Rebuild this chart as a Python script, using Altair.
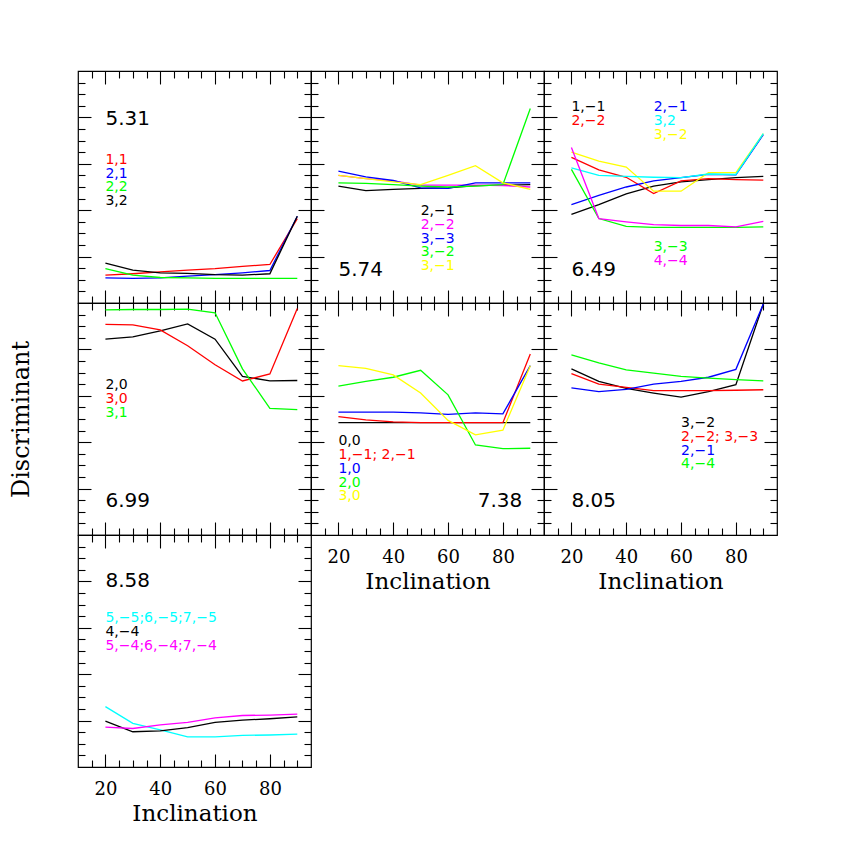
import altair as alt
import pandas as pd

# ---------------- data ----------------
INCLINATION = [20, 30, 40, 50, 60, 70, 80, 90]
PANEL_TITLES = ["5.31", "5.74", "6.49", "6.99", "7.38", "8.05", "8.58"]

P1_NAMES = ["1,1", "2,1", "2,2", "3,2"]
P1_COLORS = ["red", "blue", "green", "black"]
P1_VALUES = [
    [0.60, 0.63, 0.67, 0.71, 0.74, 0.79, 0.83, 1.82],
    [0.54, 0.53, 0.54, 0.58, 0.61, 0.65, 0.70, 1.87],
    [0.74, 0.60, 0.55, 0.54, 0.53, 0.53, 0.53, 0.53],
    [0.86, 0.71, 0.65, 0.64, 0.61, 0.60, 0.63, 1.87],
]

P2_NAMES = ["2,−1", "2,−2", "3,−3", "3,−2", "3,−1"]
P2_COLORS = ["black", "magenta", "blue", "green", "yellow"]
P2_VALUES = [
    [2.52, 2.42, 2.45, 2.47, 2.48, 2.53, 2.54, 2.55],
    [2.75, 2.68, 2.63, 2.54, 2.54, 2.54, 2.53, 2.50],
    [2.84, 2.72, 2.64, 2.48, 2.47, 2.59, 2.59, 2.59],
    [2.59, 2.58, 2.55, 2.52, 2.50, 2.52, 2.55, 4.19],
    [2.75, 2.68, 2.61, 2.55, 2.75, 2.96, 2.59, 2.45],
]

P3_NAMES = ["1,−1", "2,−2", "2,−1", "3,−2", "3,2", "3,−3", "4,−4"]
P3_COLORS = ["black", "red", "blue", "yellow", "cyan", "green", "magenta"]
P3_VALUES = [
    [1.91, 2.12, 2.35, 2.52, 2.61, 2.66, 2.70, 2.73],
    [3.14, 2.87, 2.71, 2.36, 2.63, 2.68, 2.66, 2.65],
    [2.12, 2.32, 2.50, 2.63, 2.70, 2.77, 2.76, 3.63],
    [3.25, 3.06, 2.93, 2.41, 2.41, 2.81, 2.81, 3.65],
    [2.91, 2.75, 2.73, 2.71, 2.70, 2.78, 2.77, 3.65],
    [2.88, 1.82, 1.65, 1.63, 1.63, 1.63, 1.63, 1.64],
    [3.35, 1.82, 1.75, 1.69, 1.67, 1.67, 1.64, 1.76],
]

P4_NAMES = ["2,0", "3,0", "3,1"]
P4_COLORS = ["black", "red", "green"]
P4_VALUES = [
    [4.22, 4.27, 4.40, 4.55, 4.22, 3.42, 3.32, 3.33],
    [4.54, 4.53, 4.42, 4.08, 3.67, 3.32, 3.47, 4.88],
    [4.85, 4.86, 4.86, 4.87, 4.79, 3.58, 2.73, 2.70],
]

P5_NAMES = ["0,0", "1,−1; 2,−1", "1,0", "2,0", "3,0"]
P5_COLORS = ["black", "red", "blue", "green", "yellow"]
P5_VALUES = [
    [2.42, 2.42, 2.42, 2.42, 2.42, 2.42, 2.42, 2.42],
    [2.55, 2.48, 2.44, 2.42, 2.42, 2.42, 2.42, 3.90],
    [2.65, 2.65, 2.65, 2.63, 2.60, 2.63, 2.61, 3.65],
    [3.21, 3.31, 3.40, 3.55, 3.02, 1.94, 1.86, 1.87],
    [3.65, 3.59, 3.45, 3.06, 2.47, 2.16, 2.26, 3.65],
]

P6_NAMES = ["3,−2", "2,−2; 3,−3", "2,−1", "4,−4"]
P6_COLORS = ["black", "red", "blue", "green"]
P6_VALUES = [
    [3.58, 3.31, 3.16, 3.06, 2.97, 3.09, 3.24, 4.98],
    [3.48, 3.25, 3.18, 3.11, 3.11, 3.11, 3.12, 3.13],
    [3.17, 3.09, 3.14, 3.25, 3.31, 3.40, 3.57, 4.98],
    [3.88, 3.71, 3.56, 3.49, 3.42, 3.38, 3.35, 3.32],
]

P7_NAMES = ["5,−5;6,−5;7,−5", "4,−4", "5,−4;6,−4;7,−4"]
P7_COLORS = ["cyan", "black", "magenta"]
P7_VALUES = [
    [1.30, 0.94, 0.80, 0.65, 0.65, 0.68, 0.69, 0.71],
    [0.99, 0.76, 0.78, 0.85, 0.96, 1.01, 1.04, 1.08],
    [0.86, 0.83, 0.91, 0.96, 1.06, 1.11, 1.12, 1.14],
]

# ---------------- layout / style ----------------
COLOR_HEX = {"red": "#ff0000", "blue": "#0000ff", "green": "#00ff00",
             "black": "#000000", "magenta": "#ff00ff", "cyan": "#00ffff",
             "yellow": "#ffff00"}

# annotation placement (data coordinates)
TITLE_POS = [(20, 3.96), (20, 0.72), (20, 0.72), (20, 0.73), (70.8, 0.73), (20, 0.73), (20, 4.0)]
LEGEND_BLOCKS = [
    [(20, 3.09, P1_NAMES)],
    [(50, 1.99, P2_NAMES)],
    [(20, 4.22, ["1,−1", "2,−2"]), (50, 4.22, ["2,−1", "3,2", "3,−2"]), (50, 1.20, ["3,−3", "4,−4"])],
    [(20, 3.24, P4_NAMES)],
    [(20, 2.03, P5_NAMES)],
    [(60, 2.42, P6_NAMES)],
    [(20, 3.21, P7_NAMES)],
]
LINE_STEP = 0.3
BIG_FS = 20
SMALL_FS = 14

X_DOMAIN = [10, 95]
Y_DOMAIN = [0, 5]
X_TICKS = list(range(15, 95, 5))
Y_TICKS = [i * 0.25 for i in range(1, 20)]
XSIZE = {"expr": "datum.value % 20 === 0 ? -13 : -7"}
YSIZE = {"expr": "datum.value % 1 === 0 ? -13 : -7"}
PW, PH = 233, 232

COMMON_AX = dict(domain=False, grid=False, tickColor="black", tickWidth=1.1, minExtent=0)


def x_axis(orient, labels):
    kw = dict(COMMON_AX, orient=orient, values=X_TICKS, tickSize=XSIZE)
    if labels:
        kw.update(labels=True,
                  labelExpr="datum.value % 20 === 0 ? datum.label : ''",
                  labelPadding=26, labelFont="DejaVu Serif", labelFontSize=18,
                  labelColor="black", labelOverlap=False, labelFlush=False,
                  title="Inclination", titleFont="DejaVu Serif", titleFontSize=23,
                  titleFontWeight="normal", titleColor="black", titlePadding=-2)
    else:
        kw.update(labels=False, title=None)
    return alt.Axis(**kw)


def y_axis(orient, title):
    kw = dict(COMMON_AX, orient=orient, values=Y_TICKS, tickSize=YSIZE, labels=False)
    if title:
        kw.update(title=title, titleFont="DejaVu Serif", titleFontSize=24,
                  titleFontWeight="normal", titleColor="black", titlePadding=44)
    else:
        kw.update(title=None)
    return alt.Axis(**kw)


def panel(i, names, colors, values, bottom_labels=False, ytitle=None):
    rows = []
    for n, c, vals in zip(names, colors, values):
        for xv, yv in zip(INCLINATION, vals):
            rows.append({"series": n, "col": COLOR_HEX[c], "incl": xv, "disc": yv})
    df = pd.DataFrame(rows)

    cmap = {n: COLOR_HEX[c] for n, c in zip(names, colors)}
    ann = [{"label": PANEL_TITLES[i], "col": "#000000",
            "ax": TITLE_POS[i][0], "ay": TITLE_POS[i][1], "fs": BIG_FS}]
    for bx, by, lst in LEGEND_BLOCKS[i]:
        for k, n in enumerate(lst):
            ann.append({"label": n, "col": cmap[n], "ax": bx,
                        "ay": by - k * LINE_STEP, "fs": SMALL_FS})
    adf = pd.DataFrame(ann)

    xs = alt.Scale(domain=X_DOMAIN, nice=False, zero=False)
    ys = alt.Scale(domain=Y_DOMAIN, nice=False, zero=False)

    lines = alt.Chart(df).mark_line(strokeWidth=1.3).encode(
        x=alt.X("incl:Q", scale=xs, axis=x_axis("bottom", bottom_labels)),
        y=alt.Y("disc:Q", scale=ys, axis=y_axis("left", ytitle)),
        color=alt.Color("col:N", scale=None),
        detail="series:N",
    )
    texts = alt.Chart(adf).mark_text(align="left", baseline="middle",
                                     font="DejaVu Sans").encode(
        x=alt.X("ax:Q", scale=xs, axis=x_axis("top", False)),
        y=alt.Y("ay:Q", scale=ys, axis=y_axis("right", None)),
        text="label:N",
        color=alt.Color("col:N", scale=None),
        size=alt.Size("fs:Q", scale=None),
    )
    return alt.layer(lines, texts).resolve_axis(x="independent", y="independent").properties(
        width=PW, height=PH)


panels = [
    panel(0, P1_NAMES, P1_COLORS, P1_VALUES),
    panel(1, P2_NAMES, P2_COLORS, P2_VALUES),
    panel(2, P3_NAMES, P3_COLORS, P3_VALUES),
    panel(3, P4_NAMES, P4_COLORS, P4_VALUES, ytitle="Discriminant"),
    panel(4, P5_NAMES, P5_COLORS, P5_VALUES, bottom_labels=True),
    panel(5, P6_NAMES, P6_COLORS, P6_VALUES, bottom_labels=True),
    panel(6, P7_NAMES, P7_COLORS, P7_VALUES, bottom_labels=True),
]

chart = alt.concat(*panels, columns=3, spacing=0, bounds="flush").properties(
    padding={"left": 0, "top": 61, "right": 5, "bottom": 5},
    background="white",
).configure_view(stroke="black", strokeWidth=1.2)

chart.save("out.html", embed_options={"renderer": "svg", "actions": False})
